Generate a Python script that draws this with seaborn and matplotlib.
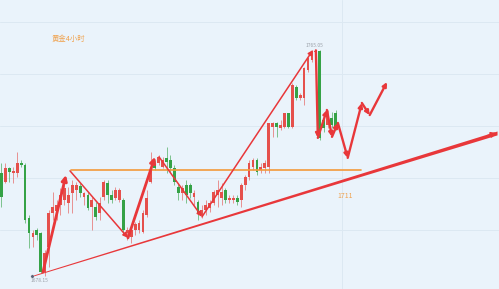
import numpy as np
import pandas as pd
import matplotlib
matplotlib.use("Agg")
import matplotlib.pyplot as plt
import seaborn as sns

# ---- candle data (gold, 4h) ----
opens = [1717.8, 1714.3, 1719.7, 1717.8, 1717.8, 1721.65, 1720.9, 1700.5, 1693.2, 1695.85,
         1694.7, 1679.7, 1689.3, 1702.4, 1703.2, 1705.5, 1707.4, 1706.3, 1710.1, 1711.25,
         1712.8, 1708.55, 1709.3, 1704.7, 1704.7, 1702.4, 1708.55, 1713.9, 1709.3, 1708.2,
         1707.4, 1707.4, 1694.7, 1693.2, 1695.85, 1695.85, 1695.1, 1701.6, 1714.3, 1720.9,
         1721.65, 1720.1, 1723.6, 1722.8, 1719.7, 1712.4, 1710.1, 1713.2, 1713.2, 1708.55,
         1706.6, 1701.6, 1703.55, 1704.3, 1706.3, 1709.3, 1708.2, 1711.25, 1707.4, 1707.4,
         1708.2, 1707.4, 1713.2, 1716.3, 1720.1, 1722.8, 1719.0, 1719.7, 1720.1, 1735.5,
         1737.05, 1735.1, 1735.5, 1740.9, 1735.5, 1750.9, 1746.7, 1746.7, 1757.45, 1761.3,
         1764.4, 1764.8, 1738.2, 1736.3, 1739.0, 1740.9]
highs = [1721.65, 1721.65, 1720.1, 1720.1, 1725.9, 1722.8, 1721.65, 1701.6, 1695.85, 1696.6,
         1695.1, 1688.15, 1703.55, 1710.5, 1707.4, 1712.0, 1713.2, 1712.4, 1715.1, 1714.3,
         1713.9, 1710.5, 1710.5, 1708.55, 1706.6, 1708.55, 1715.1, 1715.1, 1711.25, 1712.4,
         1712.0, 1708.2, 1697.0, 1696.6, 1698.9, 1699.7, 1703.55, 1711.25, 1725.9, 1722.8,
         1724.7, 1724.0, 1727.8, 1724.7, 1720.9, 1713.9, 1713.2, 1715.1, 1713.9, 1711.25,
         1707.4, 1705.5, 1707.4, 1707.4, 1711.25, 1715.1, 1713.9, 1712.0, 1709.3, 1709.3,
         1709.3, 1713.9, 1717.0, 1722.8, 1723.6, 1723.6, 1721.65, 1722.8, 1737.05, 1737.4,
         1737.4, 1738.2, 1740.9, 1740.9, 1752.4, 1751.7, 1748.6, 1758.6, 1762.5, 1765.05,
         1765.05, 1765.05, 1739.4, 1742.05, 1741.3, 1742.05]
lows = [1704.7, 1713.9, 1714.3, 1713.9, 1716.3, 1720.1, 1698.55, 1688.9, 1689.3, 1692.0,
        1679.3, 1678.15, 1681.6, 1699.7, 1699.7, 1701.6, 1705.5, 1702.4, 1702.4, 1707.4,
        1708.55, 1705.5, 1703.55, 1695.85, 1699.7, 1699.7, 1707.4, 1706.3, 1706.3, 1707.4,
        1706.6, 1694.7, 1692.0, 1690.85, 1693.9, 1694.7, 1694.7, 1700.9, 1713.9, 1719.0,
        1720.9, 1719.7, 1717.8, 1718.2, 1713.2, 1707.4, 1707.4, 1706.3, 1708.2, 1705.5,
        1699.7, 1700.5, 1701.6, 1702.8, 1705.5, 1704.7, 1705.5, 1706.3, 1706.3, 1706.3,
        1705.5, 1704.7, 1711.25, 1715.1, 1719.0, 1717.0, 1717.8, 1717.8, 1717.8, 1731.7,
        1731.7, 1734.35, 1735.1, 1735.1, 1735.1, 1745.9, 1745.9, 1744.0, 1756.7, 1760.5,
        1764.0, 1730.5, 1733.6, 1735.1, 1735.1, 1734.35]
closes = [1708.55, 1719.7, 1718.2, 1718.6, 1721.65, 1720.9, 1699.7, 1694.7, 1694.7, 1693.9,
          1679.7, 1687.0, 1702.4, 1704.7, 1705.5, 1709.3, 1712.0, 1709.3, 1713.2, 1713.2,
          1710.1, 1710.1, 1704.3, 1707.4, 1700.9, 1706.3, 1714.3, 1709.3, 1707.4, 1711.25,
          1711.25, 1695.85, 1695.85, 1695.85, 1698.2, 1698.55, 1702.4, 1708.2, 1719.0, 1719.7,
          1724.0, 1722.8, 1722.0, 1719.7, 1714.3, 1710.1, 1712.0, 1709.3, 1710.1, 1710.1,
          1702.4, 1703.55, 1705.5, 1706.3, 1710.5, 1711.25, 1710.5, 1707.4, 1708.2, 1708.2,
          1706.6, 1713.2, 1716.3, 1721.65, 1722.8, 1718.2, 1720.1, 1721.65, 1737.05, 1737.05,
          1735.5, 1736.3, 1740.9, 1735.5, 1751.7, 1746.7, 1747.8, 1758.2, 1762.1, 1764.4,
          1764.8, 1731.3, 1735.1, 1740.1, 1736.3, 1735.5]

# ---- annotation data ----
title_text = "黄金4小时"
high_label = "1765.05"
low_label = "1678.15"
support_label = "1711"
resistance_level = 1719.0
resistance_span = [17.7, 91.5]
trend_start = [7.76, 1678.15]
trend_end = [126.1, 1733.2]
# arrow paths (candle index, price)
wave_thick = [[(10.56, 1679.7), (16.41, 1717.0)], [(32.19, 1692.8), (39.06, 1724.0)]]
wave_thin = [[(17.43, 1718.6), (32.19, 1692.8)], [(40.08, 1724.0), (51.02, 1700.9)],
             [(51.02, 1700.9), (79.26, 1765.15)]]
forecast_x = [80.0, 80.5, 82.8, 84.1, 85.6, 88.1, 91.7, 93.7, 98.1]
forecast_y = [1765.0, 1731.3, 1742.05, 1731.7, 1737.05, 1723.6, 1744.75, 1740.1, 1752.8]

df = pd.DataFrame({"open": opens, "high": highs, "low": lows, "close": closes})
df["idx"] = np.arange(len(df))
df["up"] = df["close"] >= df["open"]

sns.set_theme(style="white")
plt.rcParams["font.family"] = ["Noto Sans CJK SC", "DejaVu Sans"]

BG = "#eaf3fb"
RED = "#e5504c"
GREEN = "#35a246"
ARROW = "#e8373a"

fig = plt.figure(figsize=(4.99, 2.89), dpi=100, facecolor=BG)
ax = fig.add_axes([0, 0, 1, 1])
ax.set_facecolor(BG)
ax.set_xlim(-0.38, 126.6)
ax.set_ylim(1673.1, 1784.4)

# faint grid
ax.set_yticks([1695.9, 1715.9, 1735.9, 1755.9, 1775.9])
ax.set_xticks([86.6])
ax.grid(True, color="#dce8f2", lw=0.7)
ax.tick_params(length=0, labelbottom=False, labelleft=False)
for s in ax.spines.values():
    s.set_visible(False)

# candles
cols = np.where(df["up"], RED, GREEN)
ax.vlines(df["idx"], df["low"], df["high"], colors=cols, lw=0.6, alpha=0.7, zorder=2)
body_bottom = np.minimum(df["open"], df["close"])
body_h = np.maximum(np.abs(df["close"] - df["open"]), 0.35)
ax.bar(df["idx"], body_h, bottom=body_bottom, width=0.72, color=cols, linewidth=0, zorder=3)

# resistance line
ax.plot(resistance_span, [resistance_level, resistance_level], color="#f39a3a", lw=1.2, zorder=4)

# tapered trend line
tx = np.linspace(trend_start[0], trend_end[0], 50)
ty = np.interp(tx, [trend_start[0], trend_end[0]], [trend_start[1], trend_end[1]])
hw = np.interp(tx, [trend_start[0], trend_end[0]], [0.18, 0.75])
ax.fill_between(tx, ty - hw, ty + hw, color=ARROW, lw=0, zorder=4)
ax.annotate("", xy=(trend_end[0] + 0.6, trend_end[1] + 0.3), xytext=(trend_end[0] - 3, trend_end[1] - 1.4),
            arrowprops=dict(arrowstyle="-|>", color=ARROW, lw=1.5, mutation_scale=7), zorder=5)
sns.scatterplot(x=[trend_start[0]], y=[trend_start[1]], color="#5a6478", s=6, ax=ax, zorder=6, legend=False)

for (a, b) in wave_thick:
    ax.annotate("", xy=b, xytext=a,
                arrowprops=dict(arrowstyle="-|>", color=ARROW, lw=2.0, mutation_scale=8,
                                shrinkA=0, shrinkB=0), zorder=5)
for (a, b) in wave_thin:
    ax.annotate("", xy=b, xytext=a,
                arrowprops=dict(arrowstyle="-|>", color=ARROW, lw=1.1, mutation_scale=7,
                                shrinkA=0, shrinkB=0), zorder=5)
for i in range(len(forecast_x) - 1):
    ax.annotate("", xy=(forecast_x[i + 1], forecast_y[i + 1]), xytext=(forecast_x[i], forecast_y[i]),
                arrowprops=dict(arrowstyle="-|>", color=ARROW, lw=1.7, mutation_scale=6,
                                shrinkA=0, shrinkB=0), zorder=5)

# texts
ax.text(0.104, 0.865, title_text, transform=ax.transAxes, color="#f0a24e", fontsize=5.3,
        va="center", ha="left")
ax.text(77.3, 1767.0, high_label, color="#9aa0a8", fontsize=3.5, ha="left", va="center")
ax.text(7.3, 1676.2, low_label, color="#9aa0a8", fontsize=3.5, ha="left", va="center")
ax.text(85.6, 1709.0, support_label, color="#f0a24e", fontsize=5, ha="left", va="center")

fig.savefig("out.png", dpi=100, facecolor=BG)
